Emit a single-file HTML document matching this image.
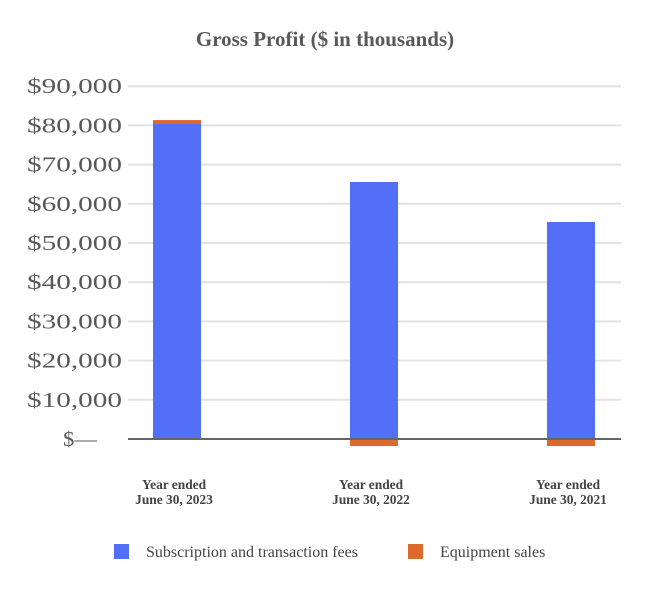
<!DOCTYPE html>
<html><head><meta charset="utf-8"><style>
body{margin:0;background:#fff;width:650px;height:600px;overflow:hidden}
text{font-family:"Liberation Serif",serif}
</style></head><body>
<svg id="chart" width="650" height="600">
<text x="325" y="46" text-anchor="middle" font-size="21" font-weight="bold" fill="#595959">Gross Profit ($ in thousands)</text>
<g id="grid"></g><g id="bars"></g><g id="xlabels"></g>
<g>
<rect x="114" y="544" width="15" height="15" fill="#536ff5"/>
<text x="146" y="557" font-size="16" fill="#444">Subscription and transaction fees</text>
<rect x="408" y="544" width="15" height="15" fill="#dc6a2d"/>
<text x="440" y="557" font-size="16" fill="#444">Equipment sales</text>
</g>
</svg>
<script>
const categories=[["Year ended","June 30, 2023"],["Year ended","June 30, 2022"],["Year ended","June 30, 2021"]];
const subscription=[80360,65560,55360];
const equipment=[1000,-1800,-1800];
const ticks=[0,10000,20000,30000,40000,50000,60000,70000,80000,90000];
const tickLabels=["$—","$10,000","$20,000","$30,000","$40,000","$50,000","$60,000","$70,000","$80,000","$90,000"];
const ns="http://www.w3.org/2000/svg";
const y0=439,pxPer=39.2/10000;
const y=v=>y0-v*pxPer;
const xc=i=>177+i*197;
function mk(t,a,p){const e=document.createElementNS(ns,t);for(const k in a)e.setAttribute(k,a[k]);p.appendChild(e);return e;}
const g=document.getElementById('grid');
ticks.forEach((t,i)=>{
 if(t!==0){const l=mk('line',{x1:128,x2:621,y1:y(t),y2:y(t),stroke:'#e3e3e3','stroke-width':2},g);
 
 }
 const attrs=t===0?{x:63,y:y(t)+7,'font-size':21,fill:'#595959',textLength:34,lengthAdjust:'spacingAndGlyphs'}:{x:27,y:y(t)+7,'font-size':21,fill:'#595959',textLength:95,lengthAdjust:'spacingAndGlyphs'};
 const tx=mk('text',attrs,g);
 tx.textContent=tickLabels[i];
 
 
});
const b=document.getElementById('bars');
categories.forEach((c,i)=>{
 const s=subscription[i],e=equipment[i];
 const r=mk('rect',{x:xc(i)-24,width:48,y:y(s),height:y(0)-y(s),fill:'#536ff5'},b);
 
 
 let top,bot;
 if(e>=0){top=y(s+e);bot=y(s);}else{top=y(0);bot=y(e);}
 const o=mk('rect',{x:xc(i)-24,width:48,y:top,height:bot-top,fill:'#dc6a2d'},b);
 
 
 const xl=document.getElementById('xlabels');
 c.forEach((line,j)=>{const t=mk('text',{x:xc(i)-3,y:489+j*15,'text-anchor':'middle','font-size':13.4,'font-weight':'bold',fill:'#444'},xl);
 t.textContent=line;
 
 });
});
const ax=mk('line',{x1:128,x2:621,y1:y0,y2:y0,stroke:'#666','stroke-width':2},b);


</script>
</body></html>
